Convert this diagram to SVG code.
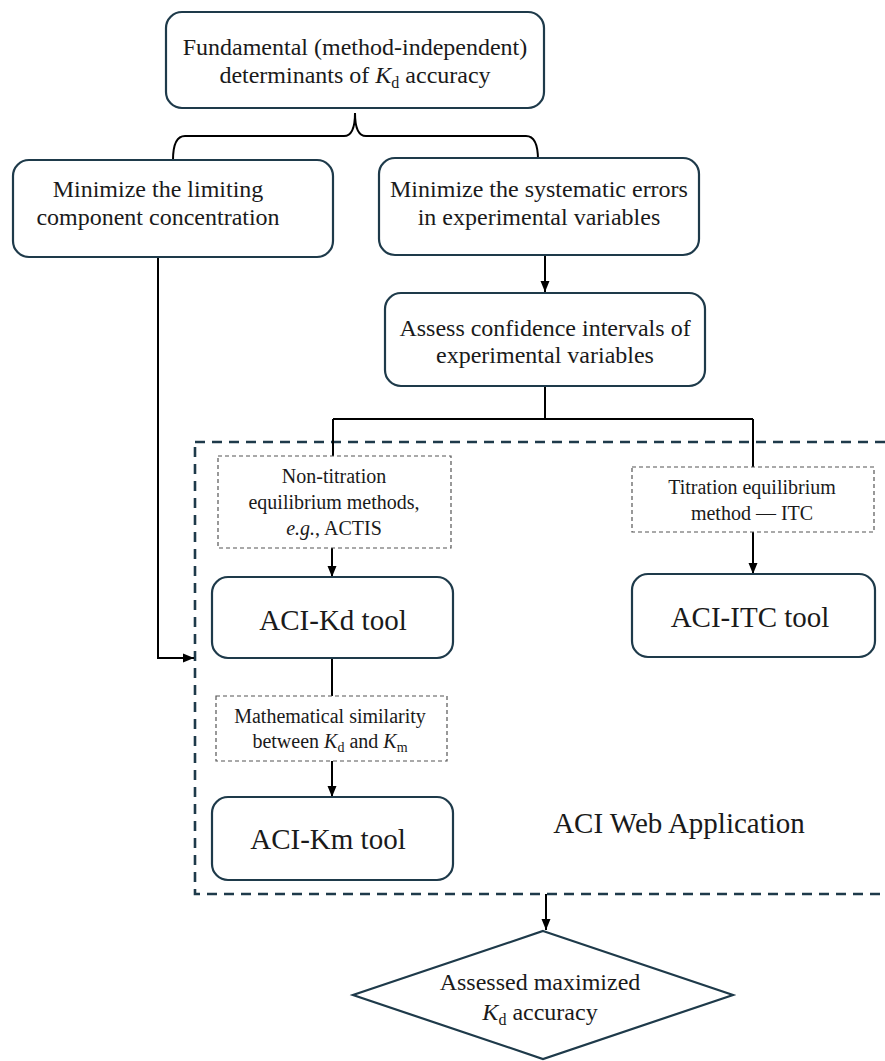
<svg xmlns="http://www.w3.org/2000/svg" width="885" height="1061" viewBox="0 0 885 1061">
<defs>
<marker id="arr" markerUnits="userSpaceOnUse" markerWidth="12" markerHeight="12" viewBox="0 0 12 12" refX="11" refY="6" orient="auto">
<path d="M0,1.5 L11,6 L0,10.5 Z" fill="#000"/>
</marker>
</defs>
<style>
text{font-family:"Liberation Serif","Times New Roman",serif;fill:#1a1a1a;text-anchor:middle}
.box{fill:#fff;stroke:#1e3a4a;stroke-width:2.2}
.dbox{fill:#fff;stroke:#555;stroke-width:1.2;stroke-dasharray:4 3}
.big{fill:none;stroke:#1e3a4a;stroke-width:2.6;stroke-dasharray:10 7}
.m{font-size:24px}
.s{font-size:20px}
.t{font-size:29px}
.c{fill:none;stroke:#000;stroke-width:2}
.i{font-style:italic}
</style>
<rect class="big" x="195" y="442" width="720" height="452"/>
<g id="connectors">
<path class="c" d="M173,160 Q173,136 185,136 L344,136 Q355,136 355,113 Q355,136 366,136 L526,136 Q538,136 538,160"/>
<path class="c" d="M545,255 V292" marker-end="url(#arr)"/>
<path class="c" d="M545,386 V419 M333,419 H753 M333,419 V456 M753,419 V467"/>
<path class="c" d="M158,257 V658 H194" marker-end="url(#arr)"/>
<path class="c" d="M332,548 V577" marker-end="url(#arr)"/>
<path class="c" d="M332,658 V696"/>
<path class="c" d="M332,761 V797" marker-end="url(#arr)"/>
<path class="c" d="M753,532 V574" marker-end="url(#arr)"/>
<path class="c" d="M546,894 V930" marker-end="url(#arr)"/>
</g>
<g id="n-fundamental">
<rect class="box" x="166" y="12" width="378" height="96" rx="16"/>
<text class="m" x="355" y="55">Fundamental (method-independent)</text>
<text class="m" x="355" y="83">determinants of <tspan class="i">K</tspan><tspan font-size="16" dy="5">d</tspan><tspan dy="-5"> accuracy</tspan></text>
</g>
<g id="n-limiting">
<rect class="box" x="13" y="160" width="320" height="97" rx="16"/>
<text class="m" x="158" y="197">Minimize the limiting</text>
<text class="m" x="158" y="225">component concentration</text>
</g>
<g id="n-systematic">
<rect class="box" x="379" y="158" width="320" height="97" rx="16"/>
<text class="m" x="539" y="197">Minimize the systematic errors</text>
<text class="m" x="539" y="225">in experimental variables</text>
</g>
<g id="n-assess">
<rect class="box" x="385" y="293" width="320" height="93" rx="16"/>
<text class="m" x="545" y="336">Assess confidence intervals of</text>
<text class="m" x="545" y="363">experimental variables</text>
</g>
<g id="n-nontitration">
<rect class="dbox" x="218" y="456" width="233" height="92"/>
<text class="s" x="334" y="483">Non-titration</text>
<text class="s" x="334" y="509">equilibrium methods,</text>
<text class="s" x="334" y="535"><tspan class="i">e.g.</tspan>, ACTIS</text>
</g>
<g id="n-titration">
<rect class="dbox" x="632" y="467" width="242" height="65"/>
<text class="s" x="752" y="494">Titration equilibrium</text>
<text class="s" x="752" y="520">method — ITC</text>
</g>
<g id="n-acikd">
<rect class="box" x="212" y="577" width="241" height="81" rx="16"/>
<text class="t" x="333" y="630">ACI-Kd tool</text>
</g>
<g id="n-aciitc">
<rect class="box" x="632" y="574" width="243" height="83" rx="16"/>
<text class="t" x="750" y="627">ACI-ITC tool</text>
</g>
<g id="n-math">
<rect class="dbox" x="216" y="696" width="231" height="65"/>
<text class="s" x="330" y="723">Mathematical similarity</text>
<text class="s" x="330" y="748">between <tspan class="i">K</tspan><tspan font-size="14" dy="4">d</tspan><tspan dy="-4"> and </tspan><tspan class="i">K</tspan><tspan font-size="14" dy="4">m</tspan></text>
</g>
<g id="n-acikm">
<rect class="box" x="212" y="797" width="241" height="83" rx="16"/>
<text class="t" x="328" y="849">ACI-Km tool</text>
</g>
<g id="n-webapp">
<text class="t" x="679" y="833">ACI Web Application</text>
</g>
<g id="n-result">
<polygon points="543,931 733,995 543,1059 353,995" fill="#fff" stroke="#1e3a4a" stroke-width="2.2"/>
<text class="m" x="540" y="990">Assessed maximized</text>
<text class="m" x="540" y="1020"><tspan class="i">K</tspan><tspan font-size="16" dy="5">d</tspan><tspan dy="-5"> accuracy</tspan></text>
</g>
</svg>
